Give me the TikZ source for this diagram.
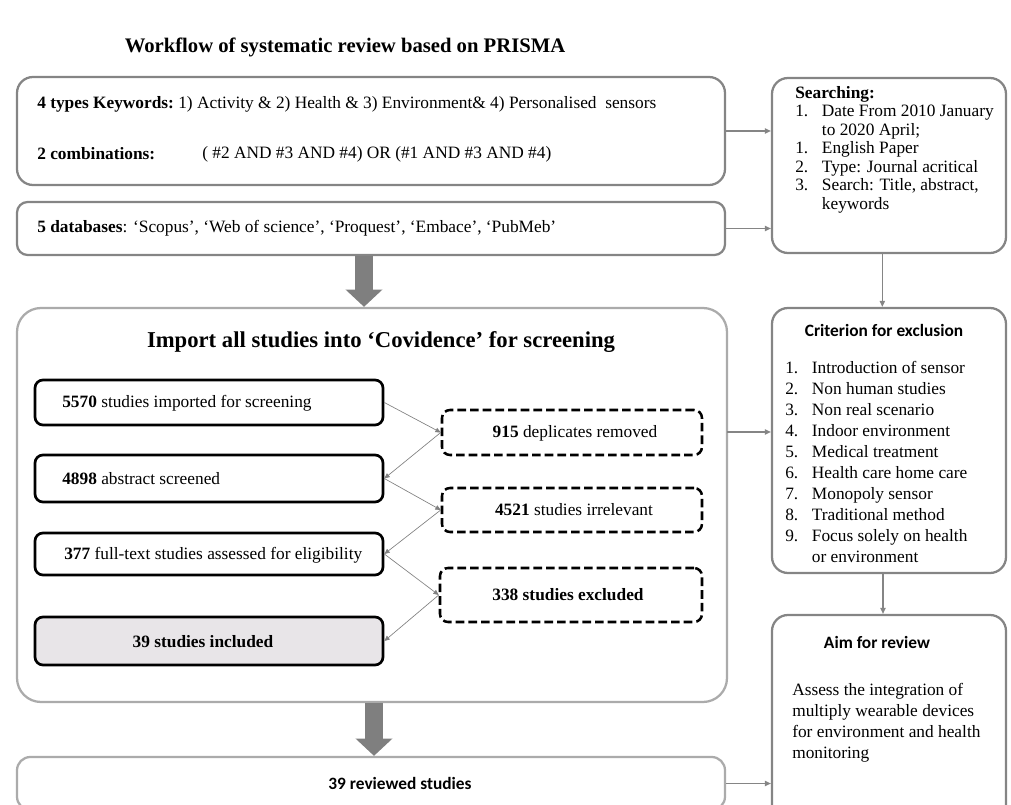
\documentclass[tikz,border=0pt]{standalone}
\usepackage{fontspec}
\setmainfont{Liberation Serif}
\newfontfamily\calibri{Carlito}
\usetikzlibrary{arrows.meta, positioning, fit, calc}
\definecolor{pgray}{HTML}{858585}
\definecolor{plgray}{HTML}{ABABAB}
\definecolor{pdark}{HTML}{7F7F7F}
\definecolor{pfill}{HTML}{E8E5E8}
\newcommand{\itm}[1]{\makebox[20pt][l]{#1}}
\tikzset{
  outer/.style={draw=pgray, line width=1.7pt, rounded corners=11pt, inner sep=0pt},
  solidbox/.style={draw=black, line width=2pt, rounded corners=6pt, inner sep=0pt},
  dashbox/.style={draw=black, line width=1.9pt, dash pattern=on 6.5pt off 3pt, rounded corners=6pt, inner sep=0pt},
  txt/.style={font=\fontsize{13}{15.75}\selectfont, inner sep=0pt},
  head/.style={font=\calibri\bfseries\fontsize{13}{15}\selectfont, inner sep=0pt},
  conn/.style={draw=pgray, line width=0.8pt, -{Triangle[length=4.5pt,width=4pt]}},
  thinarr/.style={draw=gray, line width=0.5pt, -{Triangle[length=4pt,width=3.5pt]}},
  bigarr/.style={draw=pdark, line width=13.5pt, -{Triangle[length=13pt,width=27pt]}}
}
\begin{document}
\begin{tikzpicture}[x=0.75pt, y=-0.75pt]
\useasboundingbox (0,0) rectangle (1011,805);

% Title
\node[font=\fontsize{15.5}{18}\selectfont\bfseries, inner sep=0pt] (title) at (345,47) {Workflow of systematic review based on PRISMA};

% Keywords and databases
\node[outer, rounded corners=12pt, fit={(17,77) (725,185)}] (kw) {};
\node[outer, rounded corners=8pt, fit={(17,202) (725,255)}] (db) {};
\node[txt, anchor=west] (kwA) at (37,104) {\textbf{4 types Keywords:}};
\node[txt, anchor=west] (kwB) at (178,104) {1) Activity \& 2) Health \& 3) Environment\& 4) Personalised\ \ sensors};
\node[txt, anchor=west] (cbA) at (37,154) {\textbf{2 combinations:}};
\node[txt, anchor=west] (cbB) at (202,154) {( \#2 AND \#3 AND \#4) OR (\#1 AND \#3 AND \#4)};
\node[txt, anchor=west] (dbT) at (37,228) {\textbf{5 databases}: ‘Scopus’, ‘Web of science’, ‘Proquest’, ‘Embace’, ‘PubMeb’};

% Right column
\node[outer, rounded corners=12pt, fit={(772,78) (1006,253)}] (search) {};
\node[txt, font=\fontsize{13}{13.9}\selectfont, align=left, anchor=north west] (searchT) at (795,86)
  {\textbf{Searching:}\\ \itm{1.}Date From 2010 January\\ \itm{}to 2020 April;\\ \itm{1.}English Paper\\
   \itm{2.}Type: Journal acritical\\ \itm{3.}Search: Title, abstract,\\ \itm{}keywords};

\node[outer, rounded corners=12pt, fit={(772,308) (1006,573)}] (crit) {};
\node[head] (critT) at (884,330) {Criterion for exclusion};
\node[txt, align=left, anchor=north west] (critL) at (785,361)
  {\itm{1.}Introduction of sensor\\ \itm{2.}Non human studies\\ \itm{3.}Non real scenario\\
   \itm{4.}Indoor environment\\ \itm{5.}Medical treatment\\ \itm{6.}Health care home care\\
   \itm{7.}Monopoly sensor\\ \itm{8.}Traditional method\\ \itm{9.}Focus solely on health\\ \itm{}or environment};

\node[outer, rounded corners=12pt, fit={(772,615) (1006,840)}] (aim) {};
\node[head] (aimT) at (877,642) {Aim for review};
\node[txt, align=left, anchor=north west] (aimB) at (792,683)
  {Assess the integration of\\ multiply wearable devices\\ for environment and health\\ monitoring};

% Covidence screening
\node[outer, draw=plgray, rounded corners=18pt, fit={(17,308) (727,702)}] (cov) {};
\node[font=\fontsize{17}{20}\selectfont\bfseries, inner sep=0pt] (covT) at (381,342) {Import all studies into ‘Covidence’ for screening};

\node[solidbox, fit={(35,380) (383,425)}] (s5570) {};
\node[solidbox, fit={(35,455) (383,502)}] (s4898) {};
\node[solidbox, fit={(35,533) (383,575)}] (s377) {};
\node[solidbox, fill=pfill, fit={(35,617) (383,665)}] (s39) {};
\node[txt, anchor=west] (t5570) at (62,403) {\textbf{5570} studies imported for screening};
\node[txt, anchor=west] (t4898) at (62,479) {\textbf{4898} abstract screened};
\node[txt, anchor=west] (t377) at (64,555) {\textbf{377} full-text studies assessed for eligibility};
\node[txt] (t39) at (203,642) {\textbf{39 studies included}};

\node[dashbox, fit={(442,410) (702,455)}] (d915) {};
\node[dashbox, fit={(442,488) (702,532)}] (d4521) {};
\node[dashbox, fit={(440,568) (702,622)}] (d338) {};
\node[txt] (t915) at (575,433) {\textbf{915} deplicates removed};
\node[txt] (t4521) at (574,510) {\textbf{4521} studies irrelevant};
\node[txt] (t338) at (568,595) {\textbf{338 studies excluded}};

\draw[thinarr] (s5570.east) -- (d915.west);
\draw[thinarr] (d915.west) -- (s4898.east);
\draw[thinarr] (s4898.east) -- (d4521.west);
\draw[thinarr] (d4521.west) -- (s377.east);
\draw[thinarr] (s377.east) -- (d338.west);
\draw[thinarr] (d338.west) -- (s39.east);

% Reviewed studies
\node[outer, draw=plgray, rounded corners=10pt, fit={(17,757) (725,810)}] (rev) {};
\node[head] (revT) at (400,783) {39 reviewed studies};

% Big arrows
\draw[bigarr] ([xshift=-5.25pt]db.south) -- ([xshift=-5.25pt]db.south |- cov.north);
\draw[bigarr] ([xshift=1.5pt]cov.south) -- ([xshift=1.5pt]cov.south |- rev.north);

% Connectors to the right column
\coordinate (covout) at (727,432);
\draw[conn] (kw.east) -- (kw.east -| search.west);
\draw[conn] (db.east) -- (db.east -| search.west);
\draw[conn] ([xshift=-5pt]search.south) -- ([xshift=-5pt]search.south |- crit.north);
\draw[conn] (covout) -- (covout -| crit.west);
\draw[conn] ([xshift=-4.5pt]crit.south) -- ([xshift=-4.5pt]crit.south |- aim.north);
\draw[conn] (rev.east) -- (rev.east -| aim.west);

\end{tikzpicture}
\end{document}
